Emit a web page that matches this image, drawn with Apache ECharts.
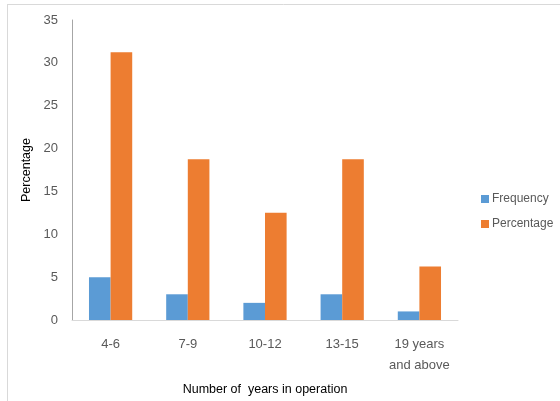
<!DOCTYPE html>
<html>
<head>
<meta charset="utf-8">
<script src="https://cdn.jsdelivr.net/npm/echarts@6/dist/echarts.min.js"></script>
<style>
  html, body { margin: 0; padding: 0; background: #fff; }
  #chart { width: 560px; height: 401px; }
</style>
</head>
<body>
<div id="chart"></div>
<script>
// Years-in-operation groups and their counts / shares
const categories = ['4-6', '7-9', '10-12', '13-15', '19 years\nand above'];
const frequency = [5, 3, 2, 3, 1];
const percentage = [31.25, 18.75, 12.5, 18.75, 6.25];
const yTicks = { min: 0, max: 35, interval: 5 };

const FONT = "'Liberation Sans', sans-serif";
const chart = echarts.init(document.getElementById('chart'));

chart.setOption({
  animation: false,
  backgroundColor: '#ffffff',
  textStyle: { fontFamily: FONT },
  grid: { left: 72, top: 20, right: 102, bottom: 78 },
  graphic: [
    { type: 'line', shape: { x1: 7, y1: 4.5, x2: 560, y2: 4.5 }, style: { stroke: '#d9d9d9', lineWidth: 1 } },
    { type: 'line', shape: { x1: 7.5, y1: 4, x2: 7.5, y2: 401 }, style: { stroke: '#d9d9d9', lineWidth: 1 } }
  ],
  legend: {
    orient: 'vertical',
    left: 476,
    top: 188,
    itemWidth: 8,
    itemHeight: 8,
    itemGap: 13,
    icon: 'rect',
    textStyle: { fontFamily: FONT, fontSize: 12, color: '#595959', padding: [0, 0, 0, -2] },
    data: ['Frequency', 'Percentage']
  },
  xAxis: {
    type: 'category',
    data: categories,
    name: 'Number of  years in operation',
    nameLocation: 'middle',
    nameGap: 63,
    nameTextStyle: { fontFamily: FONT, fontSize: 12.5, color: '#000' },
    axisLine: { lineStyle: { color: '#d9d9d9' } },
    axisTick: { show: false },
    axisLabel: { fontFamily: FONT, fontSize: 13, color: '#595959', margin: 14, lineHeight: 21, interval: 0 }
  },
  yAxis: {
    type: 'value',
    min: yTicks.min,
    max: yTicks.max,
    interval: yTicks.interval,
    name: 'Percentage',
    nameLocation: 'middle',
    nameGap: 32,
    nameTextStyle: { fontFamily: FONT, fontSize: 12.5, color: '#000' },
    axisLine: { show: true, lineStyle: { color: '#a6a6a6' } },
    axisTick: { show: false },
    splitLine: { show: false },
    axisLabel: { fontFamily: FONT, fontSize: 13, color: '#595959', margin: 14 }
  },
  series: [
    {
      name: 'Frequency',
      type: 'bar',
      data: frequency,
      barGap: '0%',
      barCategoryGap: '44%',
      itemStyle: { color: '#5b9bd5' }
    },
    {
      name: 'Percentage',
      type: 'bar',
      data: percentage,
      itemStyle: { color: '#ed7d31' }
    }
  ]
});
</script>
</body>
</html>
